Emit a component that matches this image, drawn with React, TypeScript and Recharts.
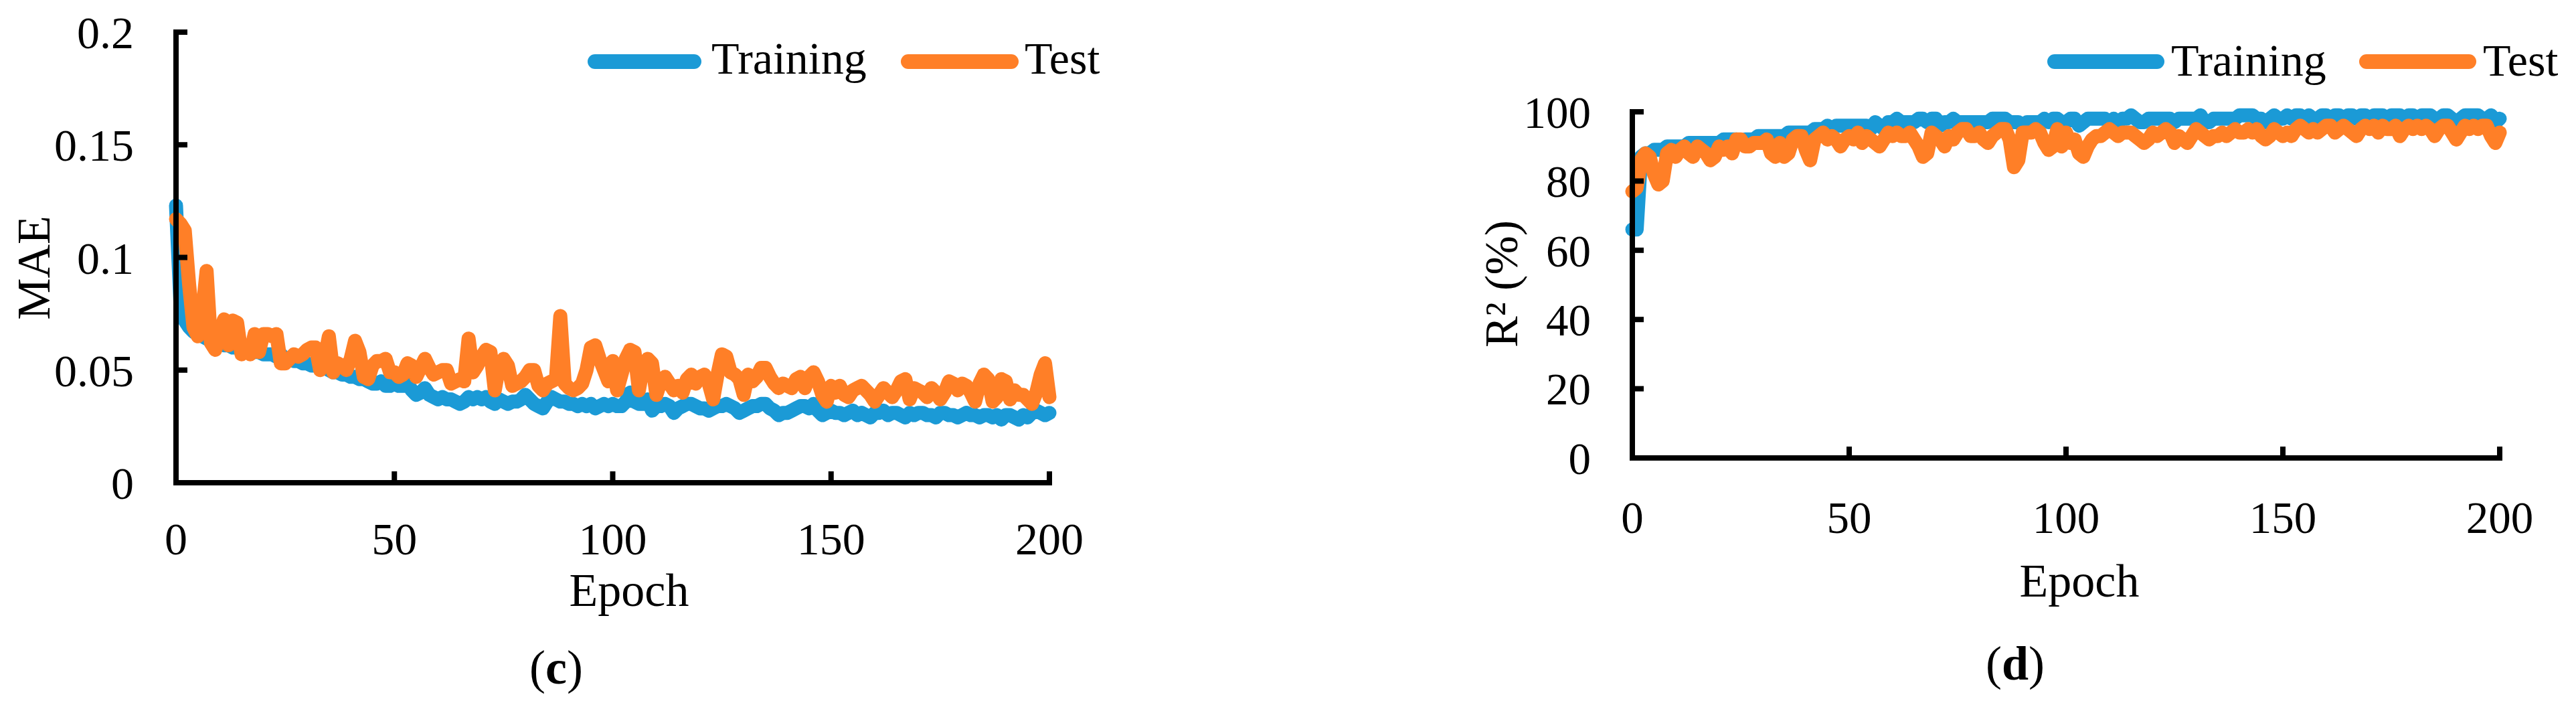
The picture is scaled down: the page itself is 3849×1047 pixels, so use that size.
import { LineChart, Line, XAxis, YAxis, Legend } from "recharts";

const FONT = '"Liberation Serif", "Times New Roman", serif';
const BLUE = "#1B9AD6";
const ORANGE = "#FF7F27";

// epochs 0..200
const epochs: number[] = Array.from({ length: 201 }, (_, i) => i);
const epochTicks = [0, 50, 100, 150, 200];
const maeTicks = [0, 0.05, 0.1, 0.15, 0.2];
const r2Ticks = [0, 20, 40, 60, 80, 100];
const seriesNames = ["Training", "Test"];

// (c) MAE
const maeTrain = [
  0.123,
  0.080, 0.072, 0.069, 0.067, 0.066, 0.065, 0.064, 0.063, 0.062, 0.062,
  0.061, 0.061, 0.060, 0.060, 0.059, 0.059, 0.058, 0.058, 0.058, 0.057,
  0.057, 0.057, 0.056, 0.057, 0.055, 0.055, 0.054, 0.054, 0.053, 0.053,
  0.052, 0.052, 0.051, 0.051, 0.050, 0.049, 0.049, 0.048, 0.048, 0.047,
  0.047, 0.046, 0.046, 0.045, 0.044, 0.044, 0.045, 0.043, 0.043, 0.044,
  0.043, 0.043, 0.044, 0.041, 0.039, 0.040, 0.042, 0.039, 0.038, 0.037,
  0.038, 0.037, 0.037, 0.036, 0.035, 0.036, 0.038, 0.037, 0.038, 0.037,
  0.038, 0.036, 0.035, 0.037, 0.036, 0.035, 0.036, 0.036, 0.037, 0.039,
  0.037, 0.035, 0.034, 0.033, 0.036, 0.038, 0.037, 0.036, 0.036, 0.035,
  0.035, 0.034, 0.035, 0.034, 0.035, 0.033, 0.034, 0.035, 0.034, 0.035,
  0.034, 0.034, 0.036, 0.040, 0.036, 0.035, 0.035, 0.037, 0.032, 0.034,
  0.034, 0.035, 0.034, 0.031, 0.033, 0.034, 0.035, 0.035, 0.034, 0.033,
  0.033, 0.032, 0.033, 0.034, 0.034, 0.035, 0.034, 0.033, 0.031, 0.032,
  0.033, 0.034, 0.034, 0.035, 0.035, 0.033, 0.032, 0.030, 0.031, 0.031,
  0.032, 0.033, 0.034, 0.034, 0.033, 0.035, 0.032, 0.030, 0.031, 0.032,
  0.031, 0.031, 0.030, 0.031, 0.032, 0.030, 0.031, 0.030, 0.029, 0.031,
  0.031, 0.032, 0.030, 0.031, 0.031, 0.030, 0.029, 0.031, 0.030, 0.031,
  0.031, 0.030, 0.030, 0.029, 0.031, 0.031, 0.030, 0.030, 0.029, 0.030,
  0.031, 0.030, 0.030, 0.029, 0.030, 0.030, 0.029, 0.030, 0.028, 0.030,
  0.030, 0.029, 0.028, 0.030, 0.029, 0.031, 0.032, 0.031, 0.030, 0.031,
];

const maeTest = [
  0.117,
  0.115, 0.112, 0.088, 0.069, 0.065, 0.075, 0.094, 0.062, 0.059, 0.066,
  0.0725, 0.061, 0.072, 0.071, 0.057, 0.059, 0.057, 0.066, 0.058, 0.066,
  0.066, 0.065, 0.066, 0.053, 0.053, 0.055, 0.057, 0.056, 0.057, 0.059,
  0.060, 0.060, 0.050, 0.055, 0.065, 0.049, 0.053, 0.052, 0.050, 0.055,
  0.063, 0.058, 0.047, 0.046, 0.052, 0.054, 0.054, 0.055, 0.049, 0.049,
  0.047, 0.048, 0.053, 0.052, 0.047, 0.051, 0.055, 0.051, 0.048, 0.049,
  0.050, 0.050, 0.044, 0.045, 0.046, 0.045, 0.064, 0.049, 0.052, 0.056,
  0.059, 0.058, 0.041, 0.052, 0.055, 0.052, 0.043, 0.044, 0.045, 0.047,
  0.050, 0.050, 0.043, 0.041, 0.044, 0.045, 0.046, 0.074, 0.044, 0.042,
  0.041, 0.042, 0.044, 0.050, 0.060, 0.061, 0.055, 0.050, 0.045, 0.054,
  0.041, 0.048, 0.055, 0.059, 0.058, 0.041, 0.052, 0.055, 0.053, 0.039,
  0.045, 0.047, 0.044, 0.041, 0.043, 0.040, 0.046, 0.048, 0.044, 0.047,
  0.048, 0.044, 0.037, 0.048, 0.057, 0.056, 0.049, 0.048, 0.046, 0.039,
  0.048, 0.045, 0.047, 0.051, 0.051, 0.047, 0.044, 0.042, 0.044, 0.043,
  0.042, 0.046, 0.047, 0.042, 0.047, 0.049, 0.045, 0.039, 0.036, 0.043,
  0.040, 0.043, 0.039, 0.038, 0.041, 0.042, 0.043, 0.041, 0.039, 0.036,
  0.039, 0.042, 0.040, 0.038, 0.041, 0.045, 0.046, 0.037, 0.042, 0.041,
  0.040, 0.038, 0.042, 0.040, 0.037, 0.040, 0.045, 0.044, 0.041, 0.044,
  0.043, 0.040, 0.036, 0.044, 0.048, 0.046, 0.036, 0.038, 0.046, 0.045,
  0.037, 0.041, 0.039, 0.039, 0.037, 0.035, 0.040, 0.048, 0.053, 0.038,
];

// (d) R2 (%)
const r2Train = [
  66,
  66, 87, 88, 88, 89, 89, 89, 90, 90, 90,
  90, 90, 91, 91, 91, 91, 91, 91, 91, 91,
  92, 92, 92, 92, 91, 92, 92, 92, 93, 93,
  93, 93, 93, 93, 93, 94, 94, 94, 94, 94,
  94, 95, 95, 95, 96, 95, 96, 96, 96, 96,
  96, 96, 96, 96, 95, 97, 96, 95, 97, 97,
  98, 97, 97, 97, 97, 98, 98, 97, 98, 98,
  96, 97, 97, 98, 97, 97, 97, 97, 97, 97,
  97, 97, 98, 98, 98, 98, 97, 97, 97, 96,
  97, 97, 97, 97, 98, 97, 98, 98, 97, 97,
  98, 98, 96, 97, 98, 98, 98, 98, 98, 97,
  98, 97, 98, 98, 99, 98, 97, 97, 98, 98,
  98, 98, 98, 98, 97, 98, 98, 98, 98, 98,
  99, 97, 97, 98, 98, 98, 98, 98, 98, 99,
  99, 99, 99, 98, 98, 97, 98, 99, 98, 98,
  99, 98, 99, 99, 98, 99, 98, 98, 99, 99,
  98, 99, 99, 98, 99, 99, 98, 99, 99, 98,
  99, 99, 99, 98, 99, 99, 99, 98, 99, 99,
  98, 99, 99, 99, 98, 98, 99, 99, 98, 97,
  98, 99, 99, 99, 99, 98, 98, 99, 97, 98,
];

const r2Test = [
  77,
  78, 86, 88, 87, 82, 79, 80, 88, 89, 87,
  89, 90, 88, 87, 90, 89, 88, 86, 87, 90,
  89, 90, 88, 92, 92, 90, 90, 91, 91, 91,
  92, 88, 87, 91, 87, 88, 92, 93, 93, 89,
  86, 92, 93, 94, 92, 93, 92, 90, 92, 93,
  92, 94, 91, 93, 92, 91, 90, 92, 94, 93,
  94, 93, 93, 94, 92, 90, 87, 88, 94, 93,
  92, 90, 93, 92, 94, 95, 95, 93, 93, 94,
  92, 91, 93, 94, 95, 95, 92, 84, 86, 94,
  94, 94, 95, 94, 91, 89, 90, 95, 90, 94,
  91, 92, 88, 87, 90, 92, 93, 93, 94, 95,
  94, 93, 94, 94, 94, 93, 92, 91, 92, 94,
  93, 94, 95, 94, 91, 93, 92, 91, 93, 95,
  94, 93, 92, 93, 93, 94, 93, 94, 95, 94,
  94, 95, 94, 95, 93, 92, 93, 95, 94, 93,
  94, 93, 95, 96, 95, 94, 95, 94, 95, 96,
  96, 94, 95, 96, 95, 94, 93, 95, 96, 95,
  96, 94, 96, 95, 95, 96, 93, 95, 96, 95,
  96, 95, 96, 95, 93, 95, 96, 96, 94, 92,
  94, 96, 95, 96, 95, 96, 96, 93, 91, 94,
];

const maeData = epochs.map((e, i) => ({ epoch: e, train: maeTrain[i], test: maeTest[i] }));
const r2Data = epochs.map((e, i) => ({ epoch: e, train: r2Train[i], test: r2Test[i] }));

const LINE_W = 21;
const axisLine = { stroke: "#000", strokeWidth: 8, strokeLinecap: "square" as const };
const tickLine = { stroke: "#000", strokeWidth: 8 };

type LegendSlot = { lineX1: number; lineX2: number; textX: number };

function makeLegend(slots: Record<string, LegendSlot>, lineY: number, textY: number, width: number) {
  return (props: any) => {
    const payload = props.payload || [];
    return (
      <svg width={width} height={150} style={{ display: "block" }}>
        {payload.map((p: any) => {
          const s = slots[p.value];
          if (!s) return null;
          return (
            <g key={p.value}>
              <line
                x1={s.lineX1}
                x2={s.lineX2}
                y1={lineY}
                y2={lineY}
                stroke={p.color}
                strokeWidth={22}
                strokeLinecap="round"
              />
              <text x={s.textX} y={textY} fontSize={68} fontFamily={FONT} fill="#000">
                {p.value}
              </text>
            </g>
          );
        })}
      </svg>
    );
  };
}

function Title({ x, y, text, rotate }: { x: number; y: number; text: string; rotate?: boolean }) {
  return (
    <text
      x={x}
      y={y}
      textAnchor="middle"
      fontSize={70}
      fontFamily={FONT}
      fill="#000"
      transform={rotate ? `rotate(-90 ${x} ${y})` : undefined}
    >
      {text}
    </text>
  );
}

function Panel(props: {
  left: number;
  width: number;
  data: any[];
  margin: { top: number; right: number; left: number; bottom: number };
  yDomain: [number, number];
  yTicks: number[];
  yTickMargin: number;
  xTickMargin: number;
  fontSize: number;
  yTitle: JSX.Element;
  xTitle: JSX.Element;
  legend: (p: any) => JSX.Element;
}) {
  const tick = { fill: "#000", fontSize: props.fontSize, fontFamily: FONT };
  return (
    <div style={{ position: "absolute", left: props.left, top: 0 }}>
      <LineChart width={props.width} height={1047} data={props.data} margin={props.margin}>
        <XAxis
          dataKey="epoch"
          type="number"
          domain={[0, 200]}
          ticks={epochTicks}
          interval={0}
          height={100}
          stroke="#000"
          axisLine={axisLine}
          tickLine={tickLine}
          tickSize={-17}
          tickMargin={props.xTickMargin}
          tick={tick}
          label={{ content: () => props.xTitle }}
        />
        <YAxis
          type="number"
          domain={props.yDomain}
          ticks={props.yTicks}
          interval={0}
          width={100}
          stroke="#000"
          axisLine={axisLine}
          tickLine={tickLine}
          tickSize={-17}
          tickMargin={props.yTickMargin}
          tick={tick}
          label={{ content: () => props.yTitle }}
        />
        <Legend
          layout="horizontal"
          verticalAlign="middle"
          align="center"
          wrapperStyle={{ left: 0, top: 0, width: props.width, height: 150 }}
          content={props.legend}
        />
        <Line
          type="linear"
          dataKey="train"
          name={seriesNames[0]}
          stroke={BLUE}
          strokeWidth={LINE_W}
          strokeLinejoin="round"
          strokeLinecap="round"
          dot={false}
          activeDot={false}
          isAnimationActive={false}
        />
        <Line
          type="linear"
          dataKey="test"
          name={seriesNames[1]}
          stroke={ORANGE}
          strokeWidth={LINE_W}
          strokeLinejoin="round"
          strokeLinecap="round"
          dot={false}
          activeDot={false}
          isAnimationActive={false}
        />
      </LineChart>
    </div>
  );
}

export default function App() {
  return (
    <div
      style={{
        position: "absolute",
        left: 0,
        top: 0,
        width: 3849,
        height: 1047,
        background: "#fff",
        overflow: "hidden",
        fontFamily: FONT,
      }}
    >
      <Panel
        left={0}
        width={1700}
        data={maeData}
        margin={{ top: 48, right: 132, left: 163, bottom: 226 }}
        yDomain={[0, 0.2]}
        yTicks={maeTicks}
        yTickMargin={80}
        xTickMargin={76}
        fontSize={68}
        yTitle={<Title x={74} y={400} text="MAE" rotate />}
        xTitle={<Title x={940} y={905} text="Epoch" />}
        legend={makeLegend(
          {
            Training: { lineX1: 889, lineX2: 1037, textX: 1063 },
            Test: { lineX1: 1357, lineX2: 1511, textX: 1531 },
          },
          92,
          110,
          1700
        )}
      />
      <Panel
        left={2150}
        width={1699}
        data={r2Data}
        margin={{ top: 167, right: 114, left: 189, bottom: 263 }}
        yDomain={[0, 100]}
        yTicks={r2Ticks}
        yTickMargin={79}
        xTickMargin={81}
        fontSize={67}
        yTitle={<Title x={117} y={424} text="R² (%)" rotate />}
        xTitle={<Title x={957} y={891} text="Epoch" />}
        legend={makeLegend(
          {
            Training: { lineX1: 920, lineX2: 1073, textX: 1094 },
            Test: { lineX1: 1386, lineX2: 1539, textX: 1560 },
          },
          92,
          113,
          1699
        )}
      />
      <svg
        width={3849}
        height={1047}
        style={{ position: "absolute", left: 0, top: 0, pointerEvents: "none" }}
      >
        <text x={831} y={1021} textAnchor="middle" fontSize={72} fontFamily={FONT} fill="#000">
          (<tspan fontWeight="bold">c</tspan>)
        </text>
        <text x={3011} y={1015} textAnchor="middle" fontSize={72} fontFamily={FONT} fill="#000">
          (<tspan fontWeight="bold">d</tspan>)
        </text>
      </svg>
    </div>
  );
}
